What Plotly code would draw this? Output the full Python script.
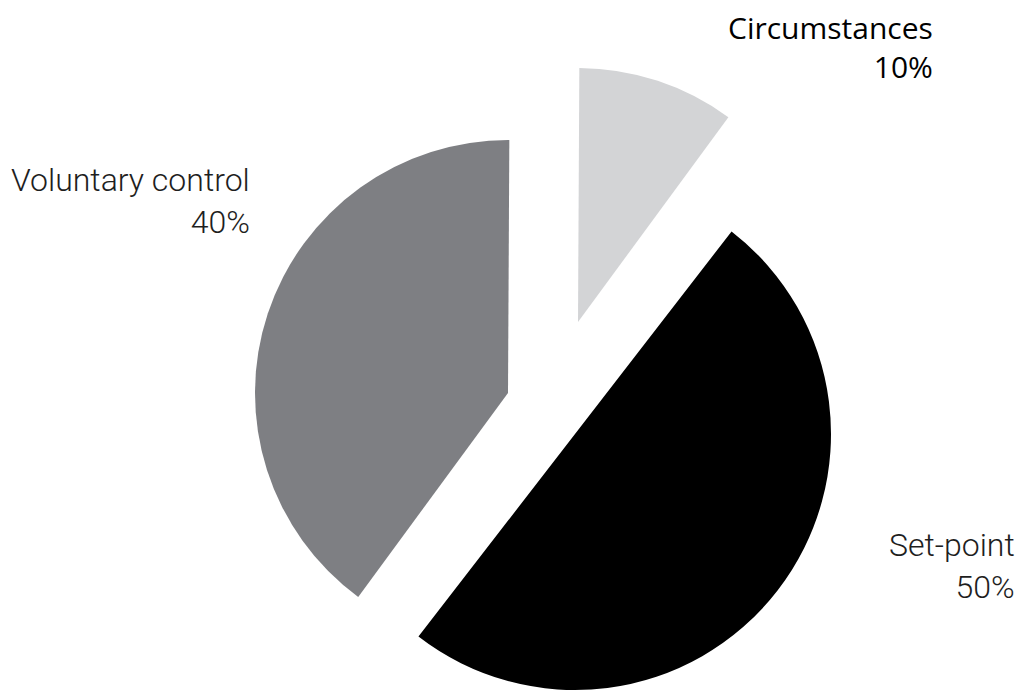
import plotly.graph_objects as go

# Slice data (clockwise from 12 o'clock)
labels = ["Circumstances", "Set-point", "Voluntary control"]
values = [10, 50, 40]
pct_text = ["10%", "50%", "40%"]
colors = ["#d3d4d6", "#000000", "#7e7f83"]

W, H = 1025, 691

# Exploded layout: each slice gets its own pie centre (px), radius (px) and rotation
slice_geom = {
    "Circumstances": dict(cx=578, cy=322, r=254, rot=0.3),
    "Set-point": dict(cx=575, cy=434, r=256, rot=1.7),
    "Voluntary control": dict(cx=508, cy=393, r=253, rot=0.3),
}


def domain_for(cx, cy, r):
    return dict(
        x=[(cx - r) / W, (cx + r) / W],
        y=[1 - (cy + r) / H, 1 - (cy - r) / H],
    )


fig = go.Figure()
for i, name in enumerate(labels):
    g = slice_geom[name]
    slice_colors = [c if j == i else "rgba(0,0,0,0)" for j, c in enumerate(colors)]
    fig.add_trace(go.Pie(
        labels=labels,
        values=values,
        sort=False,
        direction="clockwise",
        rotation=g["rot"],
        marker=dict(colors=slice_colors, line=dict(width=0)),
        textinfo="none",
        hoverinfo="label+percent",
        showlegend=False,
        domain=domain_for(g["cx"], g["cy"], g["r"]),
    ))

# Slice labels: right edge x, block centre y, font
label_pos = {
    "Circumstances": dict(x=935, y=47, family="Open Sans", size=30, weight=500, color="#000000"),
    "Voluntary control": dict(x=252, y=201, family="Roboto", size=32, weight=300, color="#1e1e1e"),
    "Set-point": dict(x=1017, y=566, family="Roboto", size=32, weight=300, color="#1e1e1e"),
}

for name, pct in zip(labels, pct_text):
    p = label_pos[name]
    fig.add_annotation(
        text=f"{name}<br>{pct}",
        x=p["x"] / W, y=1 - p["y"] / H,
        xref="paper", yref="paper",
        xanchor="right", yanchor="middle",
        align="right", showarrow=False,
        font=dict(family=p["family"], size=p["size"], weight=p["weight"], color=p["color"]),
    )

fig.update_layout(
    width=W, height=H,
    margin=dict(l=0, r=0, t=0, b=0),
    paper_bgcolor="white",
    plot_bgcolor="white",
)

fig.write_html("out.html")
